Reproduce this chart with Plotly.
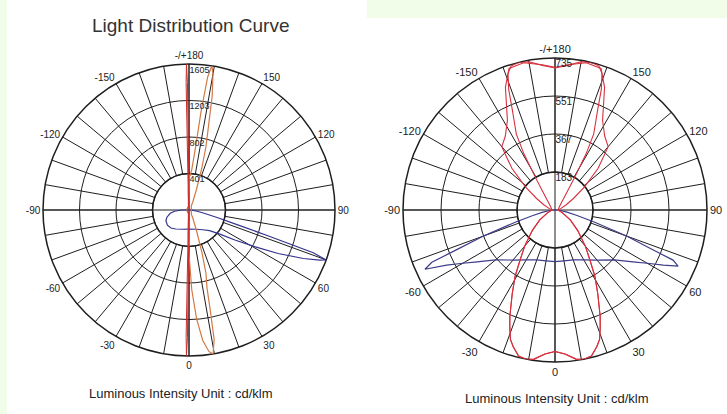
import plotly.graph_objects as go

W, H = 727, 414

# ---------------- data (cd/klm) ----------------
# Left chart
left_rings = [401.25, 802.5, 1203.75, 1605]
left_ring_labels = ["401", "802", "1203", "1605"]

left_red_theta = [0, -0.7, -1, -1.3, -2, -3, -5, -30, -90, -150, -175, -177, -178, -178.7, -179, -179.3,
                  180, 178, 175, 150, 90, 30, 5, 2, 0]
left_red_r = [200, 1400, 1600, 1400, 300, 100, 50, 20, 15, 20, 50, 100, 300, 1400, 1600, 1400,
              200, 60, 30, 15, 10, 15, 30, 60, 200]

left_orange_theta = [0, 2, 4, 6, 8, 9.5, 11, 12, 13, 15, 17, 20, 25, 30, 60, 90, 120, 150, 155, 160, 163,
                     165, 167, 168.5, 170, 171, 172, 173, 174, 176, 178, 180, -178, -175, -170, -120, -90,
                     -60, -10, -5, -2, 0]
left_orange_r = [480, 880, 1200, 1440, 1570, 1605, 1450, 1120, 880, 720, 480, 240, 100, 50, 30, 25, 30, 50,
                 100, 240, 480, 720, 960, 1280, 1520, 1605, 1480, 1100, 700, 450, 380, 360, 200, 80, 40, 25,
                 20, 25, 40, 80, 250, 480]

left_blue_theta = [-100, -90, -85, -80, -72, -65, -55, -45, -35, -20, 0, 20, 35, 45, 52, 57, 61, 64, 67, 69,
                   70, 71, 72, 73, 75, 78, 82, 88, 95]
left_blue_r = [0, 80, 160, 210, 255, 280, 290, 280, 255, 225, 210, 225, 265, 320, 430, 610, 835, 1090, 1365,
               1540, 1600, 1445, 880, 560, 320, 160, 80, 30, 0]

# Right chart
right_rings = [183.75, 367.5, 551.25, 735]
right_ring_labels = ["183", "367", "551", "735"]

right_red1_theta = [0, 4, 8, 11, 14, 17, 19, 21, 23, 27, 31, 35, 40, 48, 57, 70, 90, 120, 130, 140, 146,
                    149, 151, 153, 155, 157, 159, 161, 163, 166, 170, 175, 180,
                    -175, -170, -166, -163, -161, -159, -157, -155, -153, -151, -149, -146, -140, -130, -120,
                    -90, -70, -57, -48, -40, -35, -31, -27, -23, -21, -19, -17, -14, -11, -8, -4, 0]
right_red1_r = [684, 698, 728, 735, 728, 691, 662, 610, 559, 456, 375, 294, 228, 147, 88, 37, 15, 22, 29, 51,
                103, 184, 309, 412, 463, 529, 625, 698, 728, 735, 728, 702, 687,
                702, 728, 735, 728, 698, 625, 529, 463, 412, 309, 184, 103, 51, 29, 22,
                15, 37, 88, 147, 228, 294, 375, 456, 559, 610, 662, 691, 728, 735, 728, 698, 684]

right_red2_theta = [0, 4, 8, 11, 14, 17, 19, 21, 23, 27, 31, 35, 40, 48, 57, 70, 90, 105, 115, 122, 128,
                    134, 140, 146, 152, 158, 162, 168, 175, 180,
                    -175, -168, -162, -158, -152, -146, -140, -134, -128, -122, -115, -105, -90,
                    -70, -57, -48, -40, -35, -31, -27, -23, -21, -19, -17, -14, -11, -8, -4, 0]
right_red2_r = [684, 698, 728, 735, 728, 691, 662, 610, 559, 456, 375, 294, 228, 147, 88, 37, 15, 30, 60, 105,
                180, 290, 400, 430, 490, 640, 720, 728, 705, 690,
                705, 728, 720, 640, 490, 430, 400, 290, 180, 105, 60, 30, 15,
                37, 88, 147, 228, 294, 375, 456, 559, 610, 662, 691, 728, 735, 728, 698, 684]

right_blue_theta = [-180, -90, -80, -76, -73, -70, -68, -67, -65.5, -63, -60, -57, -50, -40, -30, -20, -10,
                    0, 10, 20, 30, 40, 50, 57, 60, 63, 65.5, 67, 68, 70, 73, 76, 80, 90, 180]
right_blue_r = [0, 15, 59, 110, 198, 368, 515, 647, 691, 588, 515, 463, 375, 316, 279, 257, 250,
                250, 250, 257, 279, 316, 375, 463, 515, 588, 654, 620, 500, 368, 198, 110, 59, 15, 0]

angle_ticks = list(range(0, 360, 10))
angle_label_map = {0: "0", 30: "30", 60: "60", 90: "90", 120: "120", 150: "150", 180: "-/+180",
                   210: "-150", 240: "-120", 270: "-90", 300: "-60", 330: "-30"}
angle_text = [angle_label_map.get(a, "") for a in angle_ticks]

GRID = "#1e1e1e"
TXT = "#222222"
FONT = "Liberation Sans, Arial, sans-serif"


def domain(cx, cy, R):
    return dict(x=[(cx - R) / W, (cx + R) / W], y=[(H - cy - R) / H, (H - cy + R) / H])


def grid_polar(dom, fsize):
    return dict(
        domain=dom, hole=0.25, bgcolor="white",
        angularaxis=dict(rotation=-90, direction="counterclockwise", tickmode="array",
                         tickvals=angle_ticks, ticktext=angle_text, ticks="", showgrid=True,
                         gridcolor=GRID, gridwidth=1.2, showline=True, linecolor=GRID, linewidth=1.5,
                         tickfont=dict(size=fsize, color=TXT, family=FONT)),
        radialaxis=dict(visible=False, range=[0, 1]),
    )


def data_polar(dom, rings):
    return dict(
        domain=dom, bgcolor="rgba(0,0,0,0)",
        angularaxis=dict(rotation=-90, direction="counterclockwise", tickmode="array",
                         tickvals=[0, 90, 180, 270], showticklabels=False, ticks="", showgrid=True,
                         gridcolor=GRID, gridwidth=1.2, showline=False),
        radialaxis=dict(range=[0, rings[-1]], tickmode="array", tickvals=rings, showticklabels=False,
                        ticks="", showgrid=True, gridcolor=GRID, gridwidth=1.2, showline=False, angle=90),
    )


def label_polar(dom, rings, labels, R, fsize):
    off = 6.0 / R * rings[-1]
    return dict(
        domain=dom, bgcolor="rgba(0,0,0,0)",
        angularaxis=dict(visible=False, rotation=-90, direction="counterclockwise"),
        radialaxis=dict(range=[0, rings[-1]], tickmode="array", tickvals=[v - off for v in rings],
                        ticktext=labels, showgrid=False, showline=False, ticks="", angle=90,
                        side="clockwise", tickangle=90,
                        tickfont=dict(size=fsize, color=TXT, family=FONT)),
    )


LC = (189, 210, 146)
RC = (555, 210, 152)
dL = domain(*LC)
dR = domain(*RC)

fig = go.Figure()


def line(theta, r, color, sub, width=1.2):
    fig.add_trace(go.Scatterpolar(theta=theta, r=r, mode="lines", line=dict(color=color, width=width),
                                  subplot=sub, showlegend=False, hoverinfo="skip"))


def empty(sub):
    fig.add_trace(go.Scatterpolar(theta=[0], r=[0], mode="markers", marker=dict(size=1, opacity=0),
                                  subplot=sub, showlegend=False, hoverinfo="skip"))


# Left chart
empty("polar")
line(left_blue_theta, left_blue_r, "#34348f", "polar2")
line(left_orange_theta, left_orange_r, "#d27a45", "polar2")
line(left_red_theta, left_red_r, "#cc2b2b", "polar2", 1.0)
empty("polar3")
# Right chart
empty("polar4")
line(right_blue_theta, right_blue_r, "#3d3d8a", "polar5")
line(right_red2_theta, right_red2_r, "#d8303e", "polar5", 1.1)
line(right_red1_theta, right_red1_r, "#d8303e", "polar5", 1.1)
empty("polar6")

fig.update_layout(
    width=W, height=H, margin=dict(l=0, r=0, t=0, b=0),
    paper_bgcolor="white", plot_bgcolor="white",
    polar=grid_polar(dL, 10),
    polar2=data_polar(dL, left_rings),
    polar3=label_polar(dL, left_rings, left_ring_labels, LC[2], 9),
    polar4=grid_polar(dR, 11),
    polar5=data_polar(dR, right_rings),
    polar6=label_polar(dR, right_rings, right_ring_labels, RC[2], 10),
    shapes=[
        dict(type="rect", xref="paper", yref="paper", x0=0, x1=7 / W, y0=0, y1=1,
             fillcolor="#f1fde8", line=dict(width=0), layer="below"),
        dict(type="rect", xref="paper", yref="paper", x0=367 / W, x1=1, y0=1 - 18 / H, y1=1,
             fillcolor="#f1fde8", line=dict(width=0), layer="below"),
    ],
    annotations=[
        dict(text="Light Distribution Curve", x=190 / W, y=1 - 25 / H, xref="paper", yref="paper",
             showarrow=False, font=dict(size=19, color="#333333", family=FONT), xanchor="center",
             yanchor="middle"),
        dict(text="Luminous Intensity Unit : cd/klm", x=181 / W, y=1 - 393 / H, xref="paper", yref="paper",
             showarrow=False, font=dict(size=13, color="#222222", family=FONT), xanchor="center",
             yanchor="middle"),
        dict(text="Luminous Intensity Unit : cd/klm", x=557 / W, y=1 - 398 / H, xref="paper", yref="paper",
             showarrow=False, font=dict(size=13, color="#222222", family=FONT), xanchor="center",
             yanchor="middle"),
    ],
)

fig.write_html("out.html", config={"displayModeBar": False},
               post_script="document.body.style.margin='0';")
